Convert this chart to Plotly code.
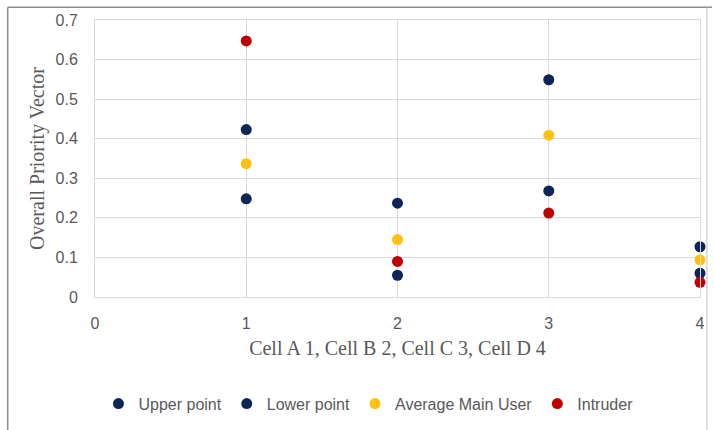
import plotly.graph_objects as go

cells = [1, 2, 3, 4]
upper_point = [0.423, 0.237, 0.549, 0.127]
lower_point = [0.248, 0.055, 0.268, 0.060]
average_main_user = [0.337, 0.145, 0.409, 0.094]
intruder = [0.647, 0.090, 0.212, 0.037]

series = [
    ("Upper point", upper_point, "#0E2557"),
    ("Lower point", lower_point, "#0E2557"),
    ("Average Main User", average_main_user, "#FFC20E"),
    ("Intruder", intruder, "#C00000"),
]

fig = go.Figure()
for name, vals, col in series:
    fig.add_trace(go.Scatter(
        x=cells, y=vals, mode="markers", name=name,
        marker=dict(size=11, color=col),
        cliponaxis=False,
    ))

tickfont = dict(family="Liberation Sans", size=16, color="#595959")
titlefont = dict(family="Liberation Serif", size=20, color="#595959")

fig.update_layout(
    width=714, height=430,
    margin=dict(l=95, r=9, t=20, b=129),
    paper_bgcolor="white", plot_bgcolor="white",
    showlegend=True,
    legend=dict(orientation="h", x=0.452, xanchor="center", y=-0.385, yanchor="middle",
                font=dict(family="Liberation Sans", size=16, color="#595959"),
                itemwidth=30, tracegroupgap=0),
    xaxis=dict(range=[0, 4], tickvals=[0, 1, 2, 3, 4], showgrid=True, gridcolor="#D9D9D9",
               zeroline=False, showline=True, linecolor="#D9D9D9", mirror=True,
               ticks="outside", ticklen=12, tickcolor="rgba(0,0,0,0)",
               tickfont=tickfont,
               title=dict(text="Cell A 1, Cell B 2, Cell C 3, Cell D 4", font=titlefont, standoff=9)),
    yaxis=dict(range=[0, 0.7], tickvals=[0, 0.1, 0.2, 0.3, 0.4, 0.5, 0.6, 0.7],
               ticktext=["0", "0.1", "0.2", "0.3", "0.4", "0.5", "0.6", "0.7"],
               showgrid=True, gridcolor="#D9D9D9", zeroline=False,
               showline=True, linecolor="#D9D9D9", mirror=True,
               ticks="outside", ticklen=13, tickcolor="rgba(0,0,0,0)",
               tickfont=tickfont,
               title=dict(text="Overall Priority Vector", font=titlefont, standoff=5)),
    shapes=[
        dict(type="line", xref="paper", yref="paper", x0=-0.1443, x1=1.02, y0=1.0463, y1=1.0463,
             line=dict(color="#8C8C8C", width=1.5)),
        dict(type="line", xref="paper", yref="paper", x0=-0.1443, x1=-0.1443, y0=1.0463, y1=-0.5,
             line=dict(color="#8C8C8C", width=1.5)),
        dict(type="line", xref="paper", yref="paper", x0=1.0115, x1=1.0115, y0=1.0463, y1=-0.5,
             line=dict(color="#BFBFBF", width=1)),
    ],
)

# remove the default 8px page margin so the figure sits exactly in the window
fig.write_html("out.html", config={"displayModeBar": False},
               post_script="document.body.style.margin='0px';")
